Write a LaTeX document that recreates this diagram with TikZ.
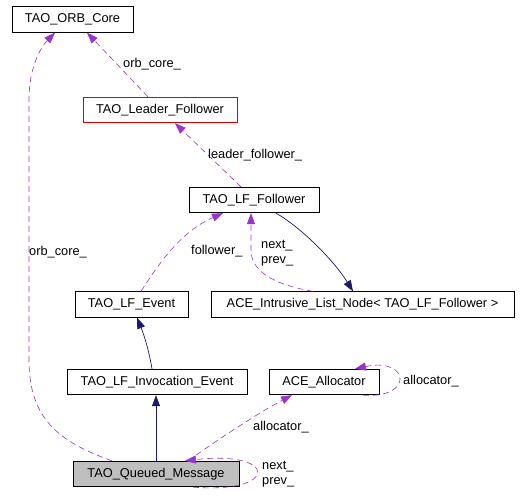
\documentclass[tikz,border=0pt]{standalone}
\usepackage{fontspec}
\setmainfont{Liberation Sans}
\usetikzlibrary{arrows.meta}
\definecolor{usecolor}{HTML}{9A32CD}
\definecolor{inhcolor}{HTML}{191970}
\definecolor{redborder}{HTML}{E00000}
\definecolor{grayfill}{HTML}{BFBFBF}
\begin{document}
\begin{tikzpicture}[
        x=1pt, y=-1pt,
        font=\fontsize{12.8}{15}\selectfont,
        cls/.style={draw, rectangle, inner sep=0pt, minimum height=25.5pt, line width=0.8pt},
        usage/.style={draw=usecolor, line width=0.6pt, dash pattern=on 6pt off 4pt, -{Triangle[length=11pt,width=8pt]}},
        inherit/.style={draw=inhcolor, line width=0.7pt, -{Triangle[length=11pt,width=8pt]}},
        lbl/.style={anchor=west, inner sep=0pt, align=left}
    ]
    \useasboundingbox (0,0) rectangle (520,500);
    \node [cls, minimum width=121pt] (orbcore) at (72.5,19.5) {TAO\_ORB\_Core};
    \node [cls, minimum width=154pt, draw=redborder] (leader) at (160,110) {TAO\_Leader\_Follower};
    \node [cls, minimum width=130pt] (lffollower) at (254,200) {TAO\_LF\_Follower};
    \node [cls, minimum width=303pt] (listnode) at (362.5,304.5) {ACE\_Intrusive\_List\_Node< TAO\_LF\_Follower >};
    \node [cls, minimum width=113pt] (lfevent) at (131.5,304.5) {TAO\_LF\_Event};
    \node [cls, minimum width=180pt] (invocation) at (157,382) {TAO\_LF\_Invocation\_Event};
    \node [cls, minimum width=110pt] (allocator) at (324,382) {ACE\_Allocator};
    \node [cls, minimum width=166pt, fill=grayfill] (queued) at (156,474) {TAO\_Queued\_Message};

    \draw [usage] ([xshift=-12pt]leader.north) -- ([xshift=14.5pt]orbcore.south);
    \draw [usage] ([xshift=-13pt]lffollower.north) -- ([xshift=15pt]leader.south);
    \draw [inherit] ([xshift=22pt]lffollower.south) .. controls (302,228) and (335,262) .. ([xshift=-9.5pt]listnode.north);
    \draw [usage] ([xshift=-49.5pt]listnode.north) .. controls (282,286) and (251,275) .. (251,250) -- ([xshift=-3pt]lffollower.south);
    \draw [usage] ([xshift=9.5pt]lfevent.north) .. controls (158,265) and (180,232) .. ([xshift=-31pt]lffollower.south);
    \draw [inherit] ([xshift=-5pt]invocation.north) .. controls (148,345) and (142,330) .. ([xshift=5.5pt]lfevent.south);
    \draw [inherit] (queued.north) -- (invocation.south -| queued.north);
    \draw [usage] ([xshift=-44pt]queued.north) .. controls (60,442) and (29,420) .. (29,360) -- (29,100) .. controls (29,68) and (40,48) .. ([xshift=-17.5pt]orbcore.south);
    \draw [usage] ([xshift=32pt]queued.north) .. controls (220,438) and (260,412) .. ([xshift=-32pt]allocator.south);
    \draw [usage] ([xshift=39pt]allocator.south) .. controls (414,399) and (410,357) .. ([xshift=31pt]allocator.north);
    \draw [usage] ([xshift=37pt]queued.south) .. controls (280,494) and (278,450) .. ([xshift=29pt]queued.north);

    \node [lbl] (lorbcore) at (123,64) {orb\_core\_};
    \node [lbl] (lleader) at (208,155) {leader\_follower\_};
    \node [lbl] (lnextprev) at (261,253) {next\_\\prev\_};
    \node [lbl] (lfollower) at (191,251) {follower\_};
    \node [lbl] (lorbcoreb) at (29,252) {orb\_core\_};
    \node [lbl] (lallocator) at (253,427) {allocator\_};
    \node [lbl] (lallocself) at (403,381) {allocator\_};
    \node [lbl] (lnextprevb) at (262,474) {next\_\\prev\_};
\end{tikzpicture}
\end{document}
